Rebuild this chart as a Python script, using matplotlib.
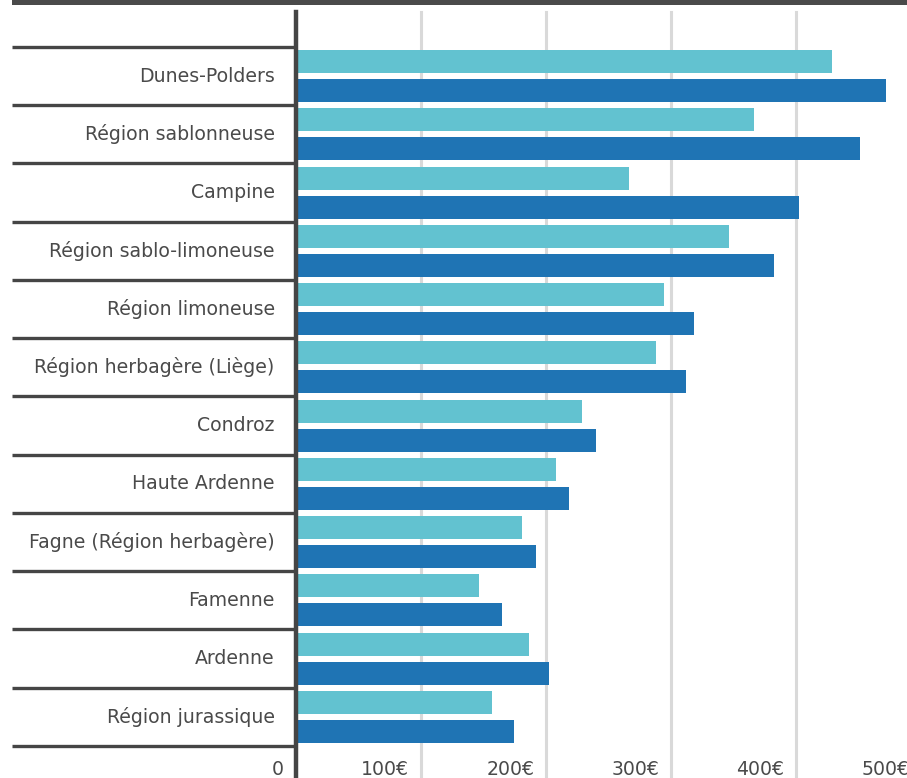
import matplotlib.pyplot as plt
from matplotlib.patches import Rectangle
from matplotlib.transforms import offset_copy

# Data
regions = ['Dunes-Polders', 'Région sablonneuse', 'Campine', 'Région sablo-limoneuse',
           'Région limoneuse', 'Région herbagère (Liège)', 'Condroz', 'Haute Ardenne',
           'Fagne (Région herbagère)', 'Famenne', 'Ardenne', 'Région jurassique']
serie_a = [429, 366, 266, 346, 294, 288, 229, 208, 181, 146, 186, 157]
serie_b = [472, 451, 402, 382, 318, 312, 240, 218, 192, 165, 202, 174]
ticks = [0, 100, 200, 300, 400, 500]
tick_labels = ['0', '100€', '200€', '300€', '400€', '500€']

plt.rcParams['font.family'] = ['DejaVu Sans']
dark = '#454545'
text_c = '#4a4a4a'
light_c = '#62c2d0'
dark_c = '#1f74b4'

W, H = 907, 778
fig = plt.figure(figsize=(W / 100, H / 100), dpi=100)
# axes: x from pixel 296 (0 €) with 125 px per 100 €, y from pixel 12 to 746
ax = fig.add_axes([296 / W, 1 - 746 / H, 625 / W, (746 - 12) / H])
ax.set_xlim(0, 500)
ax.set_ylim(12, -0.6)
ax.axis('off')

n = len(regions)
ymin, ymax = -0.6, 12.55
for t in ticks[1:]:
    ax.plot([t, t], [ymin, ymax], color='#d9d9d9', lw=2.2, clip_on=False, zorder=0)

h = 0.395
for i in range(n):
    ax.barh(i + 0.25, serie_a[i], height=h, color=light_c, zorder=2)
    ax.barh(i + 0.75, serie_b[i], height=h, color=dark_c, zorder=2)
    ax.text(-17, i + 0.5, regions[i], ha='right', va='center', fontsize=13.6,
            color=text_c)

# row separators on the label side
for i in range(n + 1):
    ax.plot([-227, 0], [i, i], color=dark, lw=2.4, clip_on=False, solid_capstyle='butt')

# vertical axis line
ax.plot([0, 0], [ymin, ymax], color=dark, lw=3.2, clip_on=False, zorder=3)

# tick labels right-aligned just left of each gridline
trans = offset_copy(ax.transData, fig=fig, x=-8.5, y=0, units='points')
for t, lab in zip(ticks, tick_labels):
    ax.text(t, 12.4, lab, ha='right', va='center', fontsize=13.6, color=text_c,
            transform=trans, clip_on=False)

# top band
fig.add_artist(Rectangle((12 / W, 1 - 5 / H), 1, 6 / H, transform=fig.transFigure,
                         color='#4a4a4a', lw=0))

fig.savefig('out.png', dpi=100)
